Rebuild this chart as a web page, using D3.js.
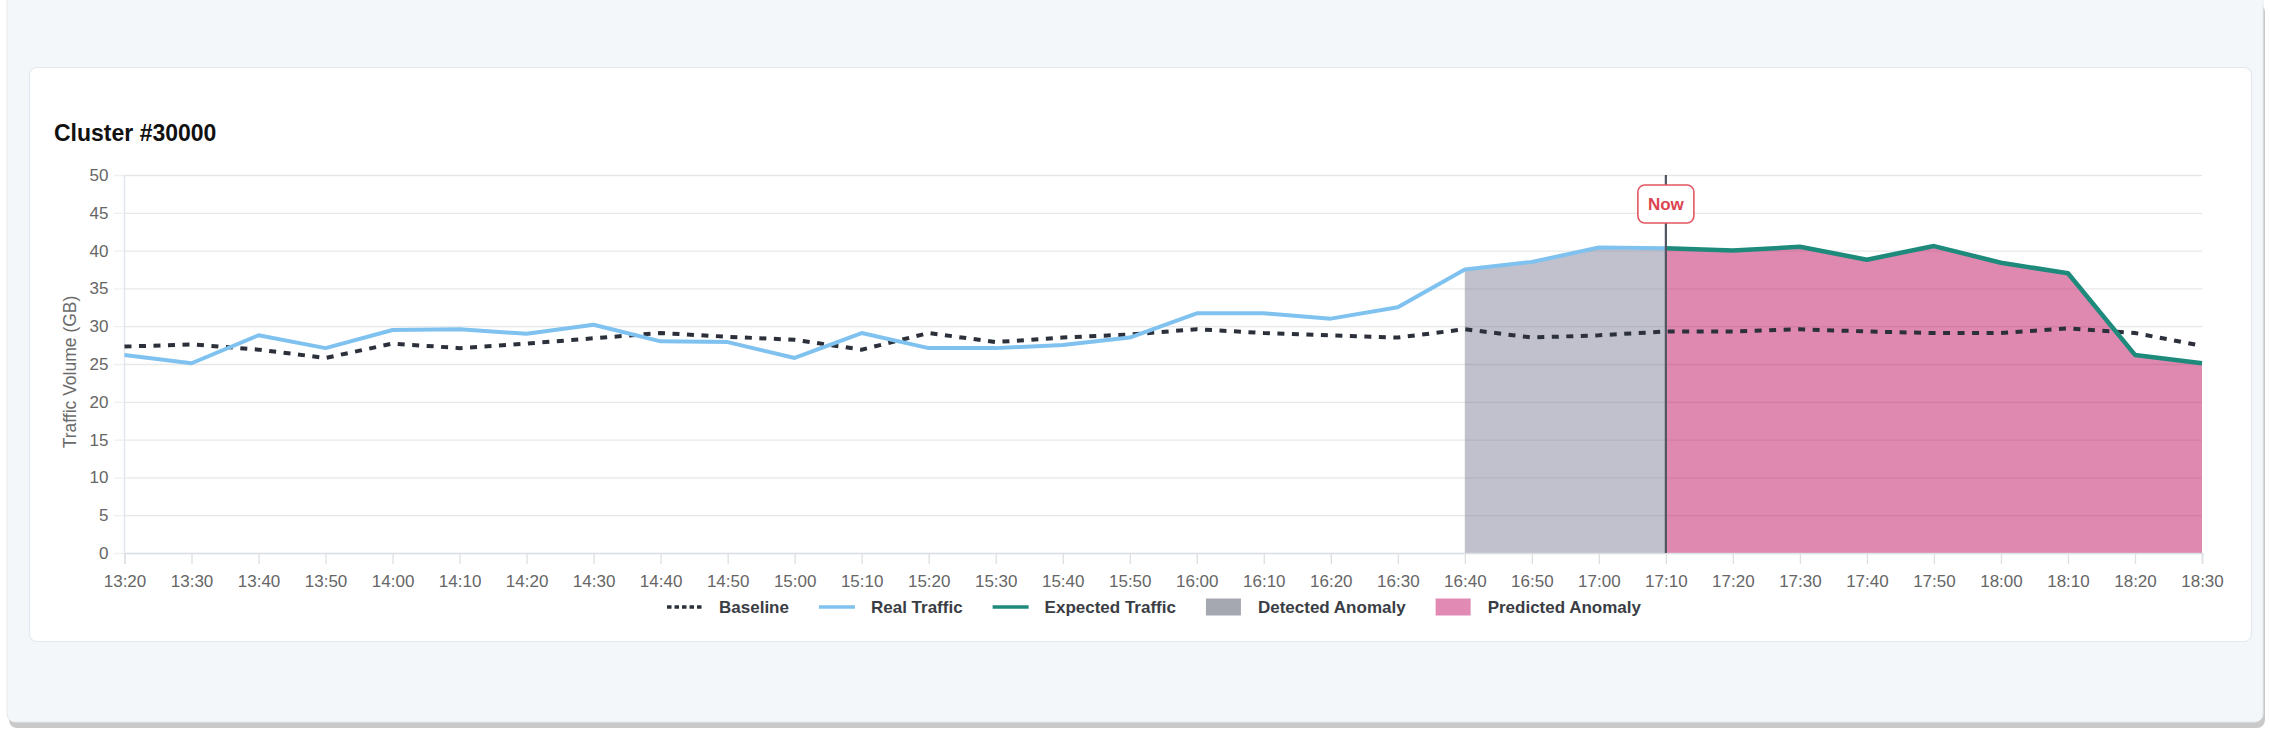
<!DOCTYPE html>
<html>
<head>
<meta charset="utf-8">
<script src="https://cdn.jsdelivr.net/npm/d3@7"></script>
<style>
  html, body { margin: 0; padding: 0; background: #ffffff; }
  svg { display: block; }
  text { font-family: "Liberation Sans", Arial, Helvetica, sans-serif; }
</style>
</head>
<body>
<svg id="chart" width="2270" height="738"></svg>
<script>
// ---------- data ----------
const times = ["13:20","13:30","13:40","13:50","14:00","14:10","14:20","14:30","14:40","14:50",
               "15:00","15:10","15:20","15:30","15:40","15:50","16:00","16:10","16:20","16:30",
               "16:40","16:50","17:00","17:10","17:20","17:30","17:40","17:50","18:00","18:10",
               "18:20","18:30"];
const baseline = [27.3, 27.6, 26.9, 25.8, 27.7, 27.1, 27.7, 28.4, 29.1, 28.6,
                  28.2, 26.9, 29.1, 27.9, 28.5, 28.9, 29.6, 29.1, 28.8, 28.5,
                  29.6, 28.5, 28.8, 29.3, 29.3, 29.6, 29.3, 29.1, 29.1, 29.7,
                  29.1, 27.4];
const realTraffic = [26.2, 25.1, 28.8, 27.1, 29.5, 29.6, 29.0, 30.2, 28.0, 27.9,
                     25.8, 29.1, 27.1, 27.1, 27.5, 28.5, 31.7, 31.7, 31.0, 32.5,
                     37.5, 38.5, 40.4, 40.3];
const expectedTimes = ["17:10","17:20","17:30","17:40","17:50","18:00","18:10","18:20","18:30"];
const expectedTraffic = [40.3, 40.0, 40.5, 38.8, 40.6, 38.4, 37.0, 26.2, 25.1];
const detectedStart = "16:40";
const nowTime = "17:10";
const yTicks = [0, 5, 10, 15, 20, 25, 30, 35, 40, 45, 50];
const legendItems = ["Baseline", "Real Traffic", "Expected Traffic", "Detected Anomaly", "Predicted Anomaly"];

// ---------- layout ----------
const svg = d3.select("#chart");
const L = 124.5, R = 2202, T = 175, B = 553;

// page frame
svg.append("rect").attr("x", 9).attr("y", 4).attr("width", 2256).attr("height", 724)
  .attr("rx", 8).attr("fill", "#c9c9c9");
svg.append("rect").attr("x", 7).attr("y", -8).attr("width", 2256).attr("height", 730)
  .attr("rx", 8).attr("fill", "#f4f7fa").attr("stroke", "#e6e9ec").attr("stroke-width", 1);
// card
svg.append("rect").attr("x", 29.5).attr("y", 67.5).attr("width", 2222).attr("height", 574)
  .attr("rx", 7).attr("fill", "#ffffff").attr("stroke", "#e3e8ee").attr("stroke-width", 1.2);

svg.append("text").attr("x", 54).attr("y", 141)
  .attr("font-size", 23).attr("font-weight", "bold").attr("fill", "#111")
  .text("Cluster #30000");

const x = d3.scalePoint().domain(times).range([L, R]);
const y = d3.scaleLinear().domain([0, 50]).range([B, T]);

// y gridlines + labels
const yAxis = svg.append("g").attr("transform", `translate(114,0)`)
  .call(d3.axisLeft(y).tickValues(yTicks).tickSize(-(R - 114)).tickPadding(5.5));
yAxis.select(".domain").remove();
yAxis.selectAll(".tick line").attr("stroke", "#f0f0f0").attr("stroke-width", 1.3);
yAxis.selectAll(".tick text").attr("font-size", 17).attr("fill", "#666")
  .attr("font-family", "Liberation Sans, Arial, sans-serif");

// y axis title
svg.append("text")
  .attr("transform", `translate(75.5,372) rotate(-90)`)
  .attr("text-anchor", "middle").attr("font-size", 17.5).attr("fill", "#6a6a6a")
  .text("Traffic Volume (GB)");

// areas
const detIdx = times.indexOf(detectedStart);
const detData = realTraffic.map((v, i) => ({t: times[i], v})).slice(detIdx);
const predData = expectedTraffic.map((v, i) => ({t: expectedTimes[i], v}));
const area = d3.area().x(d => x(d.t)).y0(y(0)).y1(d => y(d.v));
svg.append("path").datum(detData).attr("d", area)
  .attr("fill", "#9898ac").attr("fill-opacity", 0.6);
svg.append("path").datum(predData).attr("d", area)
  .attr("fill", "#cb3b7c").attr("fill-opacity", 0.6);

// grid overlay over areas
const grid2 = svg.append("g").attr("transform", `translate(${L},0)`)
  .call(d3.axisLeft(y).tickValues(yTicks.filter(v => v > 0)).tickSize(-(R - L)).tickFormat(""));
grid2.select(".domain").remove();
grid2.selectAll(".tick line").attr("stroke", "#000").attr("stroke-opacity", 0.035).attr("stroke-width", 1.3);

// axes lines
svg.append("line").attr("x1", L).attr("x2", L).attr("y1", T).attr("y2", B)
  .attr("stroke", "#e3e7ed").attr("stroke-width", 1.5);
const xAxis = svg.append("g").attr("transform", `translate(0,${B})`)
  .call(d3.axisBottom(x).tickSize(11).tickPadding(11));
xAxis.select(".domain").attr("stroke", "#dcdfe3").attr("stroke-width", 1.5);
xAxis.selectAll(".tick line").attr("stroke", "#dcdfe3").attr("stroke-width", 1.3);
xAxis.selectAll(".tick text").attr("font-size", 17).attr("fill", "#666")
  .attr("font-family", "Liberation Sans, Arial, sans-serif");

// lines
const line = d3.line().x(d => x(d.t)).y(d => y(d.v));
svg.append("path").datum(baseline.map((v, i) => ({t: times[i], v})))
  .attr("d", line).attr("fill", "none").attr("stroke", "#2b303b")
  .attr("stroke-width", 4).attr("stroke-dasharray", "7,7.5");
svg.append("path").datum(realTraffic.map((v, i) => ({t: times[i], v})))
  .attr("d", line).attr("fill", "none").attr("stroke", "#80c2ef")
  .attr("stroke-width", 4).attr("stroke-linejoin", "round");
svg.append("path").datum(predData)
  .attr("d", line).attr("fill", "none").attr("stroke", "#1d8a7b")
  .attr("stroke-width", 4.5).attr("stroke-linejoin", "round");

// now marker
const nx = x(nowTime);
svg.append("line").attr("x1", nx).attr("x2", nx).attr("y1", T).attr("y2", B)
  .attr("stroke", "#50555f").attr("stroke-width", 2.2);
svg.append("rect").attr("x", nx - 28).attr("y", 185).attr("width", 56).attr("height", 38)
  .attr("rx", 7).attr("fill", "#fff").attr("stroke", "#e35560").attr("stroke-width", 1.6);
svg.append("text").attr("x", nx).attr("y", 210).attr("text-anchor", "middle")
  .attr("font-size", 17).attr("font-weight", "bold").attr("fill", "#dc4450").text("Now");

// legend
const lg = svg.append("g");
const symW = 36, symGap = 16, itemGap = 30;
let cx = 0;
legendItems.forEach((name, i) => {
  const g = lg.append("g").attr("transform", `translate(${cx},0)`);
  if (i === 0) {
    g.append("line").attr("x1", 0).attr("x2", symW).attr("y1", 0).attr("y2", 0)
      .attr("stroke", "#2b303b").attr("stroke-width", 3.5).attr("stroke-dasharray", "4.5,3");
  } else if (i === 1) {
    g.append("line").attr("x1", 0).attr("x2", symW).attr("y1", 0).attr("y2", 0)
      .attr("stroke", "#80c2ef").attr("stroke-width", 3.5);
  } else if (i === 2) {
    g.append("line").attr("x1", 0).attr("x2", symW).attr("y1", 0).attr("y2", 0)
      .attr("stroke", "#1d8a7b").attr("stroke-width", 3.5);
  } else if (i === 3) {
    g.append("rect").attr("x", 0).attr("y", -8.5).attr("width", symW - 1).attr("height", 17)
      .attr("fill", "#a6a8b1");
  } else {
    g.append("rect").attr("x", 0).attr("y", -8.5).attr("width", symW - 1).attr("height", 17)
      .attr("fill", "#e08ab4");
  }
  const t = g.append("text").attr("x", symW + symGap).attr("y", 6)
    .attr("font-size", 17).attr("font-weight", "bold").attr("fill", "#3a3d44").text(name);
  const w = t.node().getComputedTextLength();
  cx += symW + symGap + w + itemGap;
});
const totalW = cx - itemGap;
lg.attr("transform", `translate(${1154 - totalW / 2},607)`);
</script>
</body>
</html>
